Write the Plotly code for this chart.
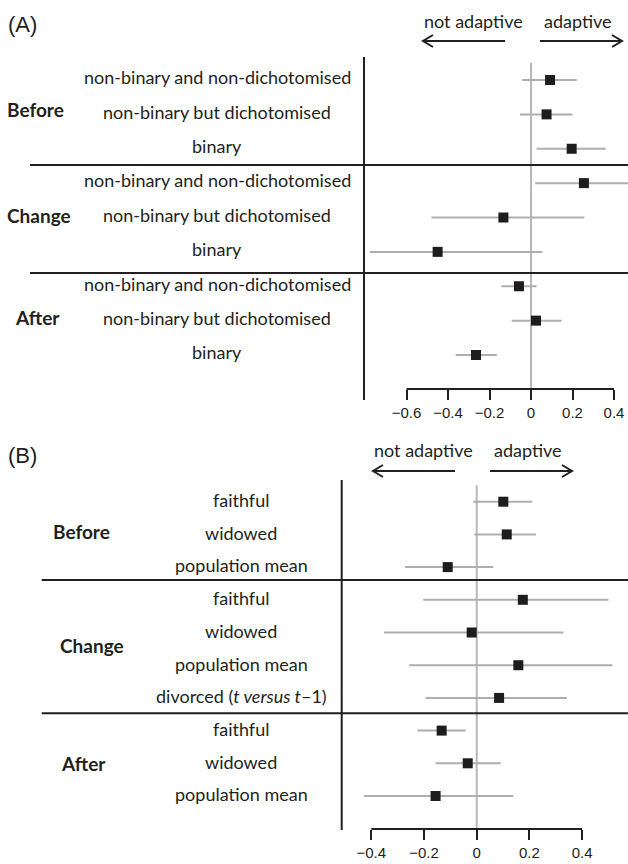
import plotly.graph_objects as go

W, H = 628, 864

# ---------------- Data ----------------
# Panel A
a_groups = ["Before", "Change", "After"]
a_labels = ["non-binary and non-dichotomised", "non-binary but dichotomised", "binary"] * 3
a_est = [0.092, 0.075, 0.196, 0.255, -0.133, -0.45, -0.058, 0.024, -0.265]
a_lo = [-0.043, -0.053, 0.027, 0.020, -0.48, -0.776, -0.143, -0.093, -0.363]
a_hi = [0.22, 0.20, 0.36, 0.50, 0.257, 0.055, 0.027, 0.148, -0.165]
a_ticks = [-0.6, -0.4, -0.2, 0, 0.2, 0.4]
a_ticktext = ["\u22120.6", "\u22120.4", "\u22120.2", "0", "0.2", "0.4"]

# Panel B
b_groups = ["Before", "Change", "After"]
b_labels = ["faithful", "widowed", "population mean",
            "faithful", "widowed", "population mean", "divorced (<i>t versus t</i>\u20131)",
            "faithful", "widowed", "population mean"]
b_est = [0.101, 0.114, -0.11, 0.175, -0.019, 0.158, 0.085, -0.133, -0.034, -0.156]
b_lo = [-0.013, -0.009, -0.272, -0.203, -0.352, -0.256, -0.194, -0.225, -0.156, -0.428]
b_hi = [0.211, 0.225, 0.063, 0.50, 0.329, 0.515, 0.342, -0.042, 0.091, 0.139]
b_ticks = [-0.4, -0.2, 0, 0.2, 0.4]
b_ticktext = ["\u22120.4", "\u22120.2", "0", "0.2", "0.4"]

# ---------------- helpers ----------------
def fx(px):
    return px / W

def fy(py):
    return 1 - py / H

DARK = "#231f20"
GREY_CI = "#aeaeae"
GREY_ZERO = "#b8b8b8"
LABEL_FONT = dict(family="Lato, Open Sans, sans-serif", size=18, color=DARK)
BOLD_FONT = dict(family="Lato, Open Sans, sans-serif", size=19, color=DARK, weight="bold")
TICK_FONT = dict(family="Liberation Sans, Arial, sans-serif", size=15, color=DARK)

fig = go.Figure()

a_rows = list(range(len(a_est)))
b_rows = list(range(len(b_est)))

fig.add_trace(go.Scatter(
    x=a_est, y=a_rows, mode="markers", xaxis="x", yaxis="y",
    marker=dict(symbol="square", size=10, color="#1e1c1d"),
    error_x=dict(type="data", symmetric=False,
                 array=[h - e for h, e in zip(a_hi, a_est)],
                 arrayminus=[e - l for e, l in zip(a_est, a_lo)],
                 color=GREY_CI, thickness=2, width=0),
    showlegend=False, hoverinfo="skip"))

fig.add_trace(go.Scatter(
    x=b_est, y=b_rows, mode="markers", xaxis="x2", yaxis="y2",
    marker=dict(symbol="square", size=10, color="#1e1c1d"),
    error_x=dict(type="data", symmetric=False,
                 array=[h - e for h, e in zip(b_hi, b_est)],
                 arrayminus=[e - l for e, l in zip(b_est, b_lo)],
                 color=GREY_CI, thickness=2, width=0),
    showlegend=False, hoverinfo="skip"))

# Axis mappings (pixel geometry of the reference)
a_zero_px, a_ppu = 531.0, 207.5
b_zero_px, b_ppu = 476.7, 263.5
a_row0, a_step = 80.0, 34.375
b_row0, b_step = 501.7, 32.7

fig.update_layout(
    width=W, height=H, margin=dict(l=0, r=0, t=0, b=0),
    paper_bgcolor="white", plot_bgcolor="rgba(0,0,0,0)",
    xaxis=dict(domain=[0, 1], range=[(0 - a_zero_px) / a_ppu, (W - a_zero_px) / a_ppu],
               anchor="free", position=fy(389), showgrid=False, zeroline=False,
               showline=False, tickvals=a_ticks, ticktext=a_ticktext, ticks="outside",
               ticklen=10, tickwidth=2, tickcolor=DARK, tickfont=TICK_FONT,
               fixedrange=True),
    yaxis=dict(domain=[0.5, 1],
               range=[(432 - a_row0) / a_step, (0 - a_row0) / a_step],
               visible=False, fixedrange=True),
    xaxis2=dict(domain=[0, 1], range=[(0 - b_zero_px) / b_ppu, (W - b_zero_px) / b_ppu],
                anchor="free", position=fy(829), showgrid=False, zeroline=False,
                showline=False, tickvals=b_ticks, ticktext=b_ticktext, ticks="outside",
                ticklen=10, tickwidth=2, tickcolor=DARK, tickfont=TICK_FONT,
                fixedrange=True),
    yaxis2=dict(domain=[0, 0.5],
                range=[(864 - b_row0) / b_step, (432 - b_row0) / b_step],
                visible=False, fixedrange=True),
)

shapes = []
# zero lines
shapes.append(dict(type="line", xref="x", yref="y", x0=0, x1=0, y0=-0.5, y1=9,
                   line=dict(color=GREY_ZERO, width=2), layer="below"))
shapes.append(dict(type="line", xref="x2", yref="y2", x0=0, x1=0, y0=-0.5, y1=10,
                   line=dict(color=GREY_ZERO, width=2), layer="below"))
# bottom axis lines (only across tick span)
shapes.append(dict(type="line", xref="x", yref="paper", x0=a_ticks[0], x1=a_ticks[-1],
                   y0=fy(389), y1=fy(389), line=dict(color=DARK, width=2)))
shapes.append(dict(type="line", xref="x2", yref="paper", x0=b_ticks[0], x1=b_ticks[-1],
                   y0=fy(829), y1=fy(829), line=dict(color=DARK, width=2)))
# left vertical separators
shapes.append(dict(type="line", xref="paper", yref="paper", x0=fx(364), x1=fx(364),
                   y0=fy(57), y1=fy(400), line=dict(color=DARK, width=2)))
shapes.append(dict(type="line", xref="paper", yref="paper", x0=fx(341.7), x1=fx(341.7),
                   y0=fy(480), y1=fy(830), line=dict(color=DARK, width=2)))
# group separators
for py in (165, 273):
    shapes.append(dict(type="line", xref="paper", yref="paper", x0=fx(30), x1=1,
                       y0=fy(py), y1=fy(py), line=dict(color=DARK, width=2)))
for py in (580, 713.3):
    shapes.append(dict(type="line", xref="paper", yref="paper", x0=fx(41.7), x1=1,
                       y0=fy(py), y1=fy(py), line=dict(color=DARK, width=2)))

# direction arrows (open chevrons)
def arrow(x_tail, x_head, py):
    d = -10 if x_head > x_tail else 10
    path = (f"M {fx(x_tail)},{fy(py)} L {fx(x_head)},{fy(py)} "
            f"M {fx(x_head + d)},{fy(py - 6)} L {fx(x_head)},{fy(py)} L {fx(x_head + d)},{fy(py + 6)}")
    return dict(type="path", xref="paper", yref="paper", path=path,
                line=dict(color=DARK, width=2))

shapes += [arrow(505, 423, 41), arrow(540, 622, 41),
           arrow(455, 373, 471), arrow(490, 572, 471)]
fig.update_layout(shapes=shapes)

ann = []
def text(x_px, py, s, font, xanchor="center", yref="paper", y=None):
    ann.append(dict(x=fx(x_px), xref="paper", y=fy(py) if y is None else y, yref=yref,
                    text=s, showarrow=False, font=font, xanchor=xanchor, yanchor="middle"))

# panel letters
text(6, 24, "(A)", dict(family="Liberation Sans, Arial, sans-serif", size=22, color=DARK), xanchor="left")
text(6, 455, "(B)", dict(family="Liberation Sans, Arial, sans-serif", size=22, color=DARK), xanchor="left")

# arrow labels
text(473, 21, "not adaptive", LABEL_FONT)
text(578, 21, "adaptive", LABEL_FONT)
text(423, 450, "not adaptive", LABEL_FONT)
text(528, 450, "adaptive", LABEL_FONT)

# category labels
for i, lab in enumerate(a_labels):
    text(217, None, lab, LABEL_FONT, yref="y", y=i - 0.08)
for i, lab in enumerate(b_labels):
    text(241, None, lab, LABEL_FONT, yref="y2", y=i - 0.05)

# group labels
a_group_rows = [0.85, 3.95, 6.9]
for g, r, xc in zip(a_groups, a_group_rows, [35, 39, 37]):
    text(xc, None, g, BOLD_FONT, yref="y", y=r)
b_group_rows = [0.9, 4.4, 8.0]
for g, r, xc in zip(b_groups, b_group_rows, [81, 92, 83]):
    text(xc, None, g, BOLD_FONT, yref="y2", y=r)

fig.update_layout(annotations=ann)
fig.write_html("out.html", config={"displayModeBar": False, "staticPlot": True},
               post_script="document.body.style.margin='0';")
